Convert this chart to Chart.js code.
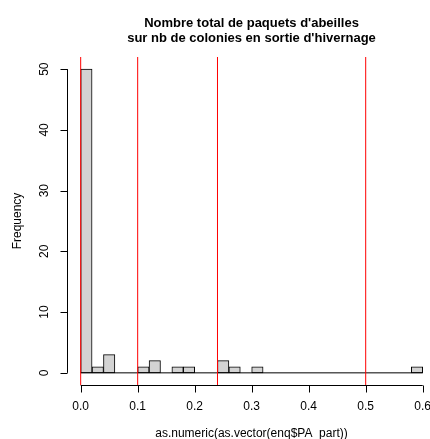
<!DOCTYPE html>
<html>
<head>
<meta charset="utf-8">
<script src="https://cdn.jsdelivr.net/npm/chart.js@4/dist/chart.umd.min.js"></script>
<style>
html,body{margin:0;padding:0;background:#fff;overflow:hidden;}
canvas{display:block;}
</style>
</head>
<body>
<canvas id="c" width="430" height="439"></canvas>
<script>
const titleLines = ["Nombre total de paquets d'abeilles", "sur nb de colonies en sortie d'hivernage"];
const xTitle = "as.numeric(as.vector(enq$PA_part))";
const yTitle = "Frequency";
const binStarts = [0.00,0.02,0.04,0.06,0.08,0.10,0.12,0.14,0.16,0.18,0.20,0.22,0.24,0.26,0.28,0.30,0.32,0.34,0.36,0.38,0.40,0.42,0.44,0.46,0.48,0.50,0.52,0.54,0.56,0.58];
const binWidth = 0.02;
const counts = [50,1,3,0,0,1,2,0,1,1,0,0,2,1,0,1,0,0,0,0,0,0,0,0,0,0,0,0,0,1];
const redLines = [0, 0.1, 0.24, 0.5];
const xTicks = [0, 0.1, 0.2, 0.3, 0.4, 0.5, 0.6];
const yTicks = [0, 10, 20, 30, 40, 50];

const FONT = '"Liberation Sans", Arial, Helvetica, sans-serif';

const barData = binStarts.map((s, i) => ({x: s + binWidth / 2, y: counts[i]}));
const redData = [];
redLines.forEach(v => {
  redData.push({x: v, y: -2}, {x: v, y: 52}, {x: v, y: null});
});

const datasets = [{
  type: 'line',
  label: 'abline',
  data: redData,
  borderColor: '#FF0000',
  backgroundColor: '#FF0000',
  borderWidth: 1,
  pointRadius: 0,
  spanGaps: false,
  fill: false,
  order: 1
}, {
  type: 'line',
  label: 'base',
  data: [{x: binStarts[0], y: 0}, {x: binStarts[binStarts.length - 1] + binWidth, y: 0}],
  borderColor: '#000000',
  backgroundColor: '#000000',
  borderWidth: 1,
  pointRadius: 0,
  fill: false,
  order: 2
}, {
  type: 'bar',
  label: 'hist',
  data: barData,
  backgroundColor: '#D3D3D3',
  borderColor: '#000000',
  borderWidth: 1,
  borderSkipped: false,
  barPercentage: 1,
  categoryPercentage: 1,
  order: 3
}];

const axesPlugin = {
  id: 'rAxes',
  afterDraw(chart) {
    const ctx = chart.ctx;
    const xs = chart.scales.x, ys = chart.scales.y;
    const ca = chart.chartArea;
    ctx.save();
    ctx.strokeStyle = '#000';
    ctx.fillStyle = '#000';
    ctx.lineWidth = 1;
    // x axis
    const ay = Math.round(ca.bottom) + 0.5;
    ctx.beginPath();
    ctx.moveTo(xs.getPixelForValue(xTicks[0]), ay);
    ctx.lineTo(xs.getPixelForValue(xTicks[xTicks.length - 1]), ay);
    xTicks.forEach(t => {
      const px = Math.round(xs.getPixelForValue(t)) + 0.5;
      ctx.moveTo(px, ay);
      ctx.lineTo(px, ay + 7);
    });
    ctx.stroke();
    ctx.font = '12px ' + FONT;
    ctx.textAlign = 'center';
    ctx.textBaseline = 'middle';
    xTicks.forEach(t => {
      ctx.fillText(t.toFixed(1), xs.getPixelForValue(t), 407);
    });
    ctx.fillText(xTitle, (ca.left + 436) / 2, 434);
    // y axis
    const ax = Math.round(ca.left) + 0.5;
    ctx.beginPath();
    ctx.moveTo(ax, ys.getPixelForValue(yTicks[0]));
    ctx.lineTo(ax, ys.getPixelForValue(yTicks[yTicks.length - 1]));
    yTicks.forEach(t => {
      const py = Math.round(ys.getPixelForValue(t)) + 0.5;
      ctx.moveTo(ax, py);
      ctx.lineTo(ax - 7, py);
    });
    ctx.stroke();
    yTicks.forEach(t => {
      ctx.save();
      ctx.translate(45, ys.getPixelForValue(t));
      ctx.rotate(-Math.PI / 2);
      ctx.fillText(String(t), 0, 0);
      ctx.restore();
    });
    ctx.save();
    ctx.translate(18, (ca.top + ca.bottom) / 2);
    ctx.rotate(-Math.PI / 2);
    ctx.fillText(yTitle, 0, 0);
    ctx.restore();
    // title
    ctx.font = 'bold 13px ' + FONT;
    const cx = (ca.left + 436) / 2;
    ctx.fillText(titleLines[0], cx, 23);
    ctx.fillText(titleLines[1], cx, 38);
    ctx.restore();
  }
};

new Chart(document.getElementById('c'), {
  data: {datasets},
  options: {
    responsive: false,
    animation: false,
    devicePixelRatio: 1,
    layout: {padding: {left: 67, right: 0, top: 57, bottom: 54}},
    scales: {
      x: {type: 'linear', min: -0.024, max: 0.6128, offset: false, display: false},
      y: {type: 'linear', min: -2, max: 52, display: false}
    },
    plugins: {legend: {display: false}, tooltip: {enabled: false}, title: {display: false}}
  },
  plugins: [axesPlugin]
});
</script>
</body>
</html>
